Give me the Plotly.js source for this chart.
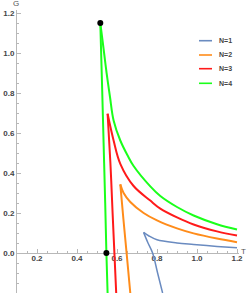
<!DOCTYPE html>
<html>
<head>
<meta charset="utf-8">
<script src="https://cdn.plot.ly/plotly-3.0.1.min.js"></script>
<style>html,body{margin:0;padding:0;background:#fff;}#chart{width:247px;height:296px;}</style>
</head>
<body>
<div id="chart"></div>
<script>
// Series names and colours
var seriesNames = ["N=1", "N=2", "N=3", "N=4"];
var seriesColors = ["#6a8bc0", "#ff8c1a", "#ff1a1a", "#1aff1a"];

// N=1 (blue)
var lowerT1 = [0.733, 0.755, 0.778, 0.803, 0.828];
var lowerG1 = [0.103, 0.05, 0.0, -0.1, -0.2];
var upperT1 = [0.733, 0.76, 0.80, 0.90, 0.983, 1.10, 1.20];
var upperG1 = [0.103, 0.085, 0.066, 0.050, 0.0425, 0.033, 0.026];

// N=2 (orange)
var lowerT2 = [0.6165, 0.632, 0.648, 0.6665];
var lowerG2 = [0.343, 0.17, 0.0, -0.2];
var upperT2 = [0.6165, 0.633, 0.6665, 0.733, 0.80, 0.90, 0.983, 1.10, 1.20];
var upperG2 = [0.343, 0.30, 0.255, 0.20, 0.163, 0.123, 0.098, 0.072, 0.054];

// N=3 (red)
var lowerT3 = [0.553, 0.567, 0.578, 0.587, 0.596];
var lowerG3 = [0.696, 0.45, 0.20, 0.0, -0.2];
var upperT3 = [0.553, 0.583, 0.6165, 0.683, 0.7665, 0.8165, 0.90, 0.983, 1.10, 1.20];
var upperG3 = [0.696, 0.5625, 0.446, 0.335, 0.262, 0.222, 0.178, 0.1425, 0.108, 0.0875];

// N=4 (green)
var lowerT4 = [0.5165, 0.525, 0.533, 0.541, 0.547, 0.553];
var lowerG4 = [1.15, 0.85, 0.55, 0.25, 0.0, -0.2];
var upperT4 = [0.5165, 0.533, 0.548, 0.565, 0.583, 0.6165, 0.653, 0.683, 0.7665, 0.8165, 0.90, 0.983, 1.10, 1.20];
var upperG4 = [1.15, 1.02, 0.90, 0.78, 0.6625, 0.5625, 0.4875, 0.435, 0.333, 0.285, 0.23, 0.1875, 0.144, 0.1175];

// Marked points
var dotT = [0.5165, 0.547];
var dotG = [1.15, 0.0];

// Tick values
var xTicks = [0.2, 0.4, 0.6, 0.8, 1.0, 1.2];
var xTickText = ["0.2", "0.4", "0.6", "0.8", "1.0", "1.2"];
var yTicks = [-0.2, 0.0, 0.2, 0.4, 0.6, 0.8, 1.0, 1.2];
var yTickText = ["- 0.2", "0.0", "0.2", "0.4", "0.6", "0.8", "1.0", "1.2"];

var branches = [
  [lowerT1, lowerG1, upperT1, upperG1],
  [lowerT2, lowerG2, upperT2, upperG2],
  [lowerT3, lowerG3, upperT3, upperG3],
  [lowerT4, lowerG4, upperT4, upperG4]
];
var widths = [1.5, 2, 2, 2];

var traces = [];
branches.forEach(function (b, i) {
  [[b[0], b[1]], [b[2], b[3]]].forEach(function (br) {
    traces.push({
      x: br[0], y: br[1], type: "scatter", mode: "lines",
      line: {color: seriesColors[i], width: widths[i], shape: "spline", smoothing: 1},
      name: seriesNames[i], showlegend: false, hoverinfo: "skip"
    });
  });
});
traces.push({
  x: dotT, y: dotG, type: "scatter", mode: "markers",
  marker: {color: "#000", size: 6}, showlegend: false, hoverinfo: "skip"
});

var axColor = "#b8b8b8";
var tickFont = {family: "Liberation Sans, Arial, sans-serif", size: 8, color: "#444", weight: "bold"};

var shapes = [];
var annotations = [];
var legY = [0.8915, 0.841, 0.7926, 0.741];
seriesNames.forEach(function (n, i) {
  shapes.push({type: "line", xref: "paper", yref: "paper", x0: 0.8198, x1: 0.8784,
    y0: legY[i], y1: legY[i], line: {color: seriesColors[i], width: 1.6}});
  annotations.push({xref: "paper", yref: "paper", x: 0.9009, y: legY[i], xanchor: "left",
    yanchor: "middle", text: n, showarrow: false,
    font: {family: "Liberation Sans, Arial, sans-serif", size: 7, color: "#444", weight: "bold"}});
});
annotations.push({xref: "paper", yref: "paper", x: -0.004, y: 1.024, xanchor: "center", yanchor: "middle",
  text: "G", showarrow: false, font: {family: "Liberation Sans, Arial, sans-serif", size: 8, color: "#555"}});
annotations.push({xref: "paper", yref: "paper", x: 1.0225, y: 0.148, xanchor: "center", yanchor: "middle",
  text: "T", showarrow: false, font: {family: "Liberation Sans, Arial, sans-serif", size: 8, color: "#555"}});

var layout = {
  width: 247, height: 296,
  margin: {l: 17, r: 8, t: 10, b: 3, pad: 0},
  paper_bgcolor: "#fff", plot_bgcolor: "#fff",
  showlegend: false,
  xaxis: {
    range: [0.1, 1.21], anchor: "free", position: 0.2 / 1.415, layer: "below traces",
    showgrid: false, zeroline: false, showline: true, linecolor: axColor, linewidth: 1,
    ticks: "inside", ticklen: 4, tickcolor: axColor, tickwidth: 1, ticklabelstandoff: -3,
    tickvals: xTicks, ticktext: xTickText, tickfont: tickFont,
    minor: {dtick: 0.05, tick0: 0, ticks: "inside", ticklen: 2, tickcolor: axColor, showgrid: false}
  },
  yaxis: {
    range: [-0.2, 1.215], layer: "below traces",
    showgrid: false, zeroline: false, showline: true, linecolor: axColor, linewidth: 1,
    ticks: "inside", ticklen: 4, tickcolor: axColor, tickwidth: 1,
    tickvals: yTicks, ticktext: yTickText, tickfont: tickFont,
    minor: {dtick: 0.05, tick0: 0, ticks: "inside", ticklen: 2, tickcolor: axColor, showgrid: false}
  },
  shapes: shapes,
  annotations: annotations
};

Plotly.newPlot("chart", traces, layout, {staticPlot: true, displayModeBar: false});
</script>
</body>
</html>
